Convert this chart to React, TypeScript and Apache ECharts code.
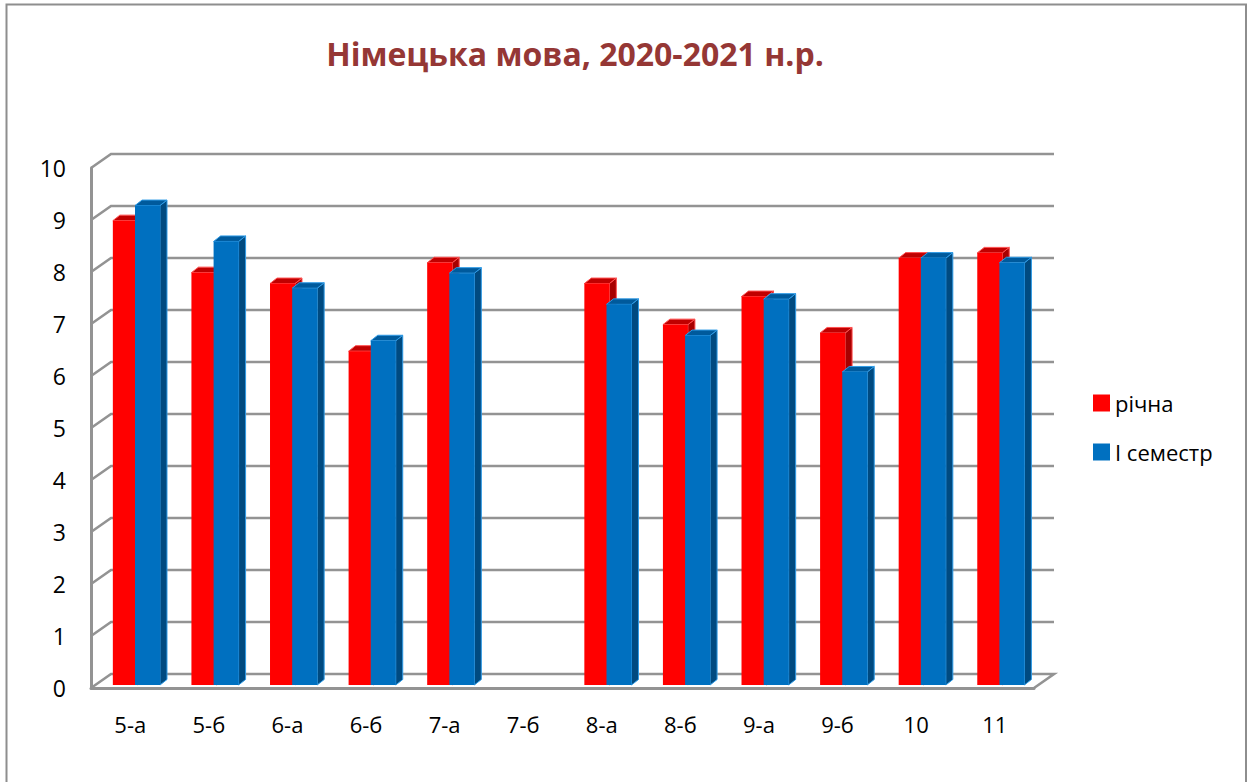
import React, { useEffect, useRef } from "react";
import * as echarts from "echarts";

const titleText = "Німецька мова, 2020-2021 н.р.";
const categories = ["5-а", "5-б", "6-а", "6-б", "7-а", "7-б", "8-а", "8-б", "9-а", "9-б", "10", "11"];
const annual = [8.93, 7.93, 7.72, 6.42, 8.12, null, 7.72, 6.93, 7.47, 6.77, 8.21, 8.31];
const semester = [9.22, 8.53, 7.63, 6.62, 7.92, null, 7.32, 6.72, 7.42, 6.02, 8.21, 8.12];
const yTicks = [0, 1, 2, 3, 4, 5, 6, 7, 8, 9, 10];

const FONT = "'Open Sans', sans-serif";
const AXIS = "#939393";
const WALL_DX = 20;
const WALL_DY = -14;
const BAR_DX = 7;
const BAR_DY = -5.5;
const BAR_BASE = -3;

function wallItem(params: any, api: any) {
  const v = api.value(0);
  const cs = params.coordSys;
  const y = api.coord([0, v])[1];
  const x0 = cs.x;
  const x1 = cs.x + cs.width;
  const pts: number[][] = [[x0, y], [x0 + WALL_DX, y + WALL_DY], [x1 + WALL_DX, y + WALL_DY]];
  if (v === 0) pts.push([x1, y]);
  return {
    type: "polyline",
    shape: { points: pts },
    style: { stroke: AXIS, lineWidth: 2.6, fill: "none" },
  };
}

function barRenderer(startFrac: number, front: string, top: string, side: string, edge: string) {
  return (_params: any, api: any) => {
    const raw = api.value(1);
    if (raw === null || raw === undefined || Number.isNaN(raw)) return null;
    const band = api.size([1, 0])[0];
    const p = api.coord([api.value(0), raw]);
    const b = api.coord([api.value(0), 0]);
    const l = p[0] + band * startFrac;
    const r = l + band * 0.318;
    const t = p[1] + BAR_BASE;
    const bt = b[1] + BAR_BASE;
    return {
      type: "group",
      children: [
        {
          type: "polygon",
          shape: { points: [[r, t], [r + BAR_DX, t + BAR_DY], [r + BAR_DX, bt + BAR_DY], [r, bt]] },
          style: { fill: side, stroke: edge, lineWidth: 1 },
        },
        {
          type: "polygon",
          shape: { points: [[l, t], [l + BAR_DX, t + BAR_DY], [r + BAR_DX, t + BAR_DY], [r, t]] },
          style: { fill: top, stroke: edge, lineWidth: 1 },
        },
        {
          type: "rect",
          shape: { x: l, y: t, width: r - l, height: bt - t },
          style: { fill: front },
        },
      ],
    };
  };
}

export default function App() {
  const ref = useRef<HTMLDivElement>(null);
  useEffect(() => {
    document.body.style.margin = "0";
    document.documentElement.style.overflow = "hidden";
    const chart = echarts.init(ref.current!, undefined, { renderer: "svg" });
    chart.setOption({
      animation: false,
      backgroundColor: "#ffffff",
      title: {
        text: titleText,
        left: 570,
        top: 32,
        textAlign: "center",
        textStyle: { color: "#953735", fontSize: 32, fontWeight: "bold", fontFamily: FONT },
      },
      legend: {
        orient: "vertical",
        left: 1088,
        top: 387,
        itemWidth: 17,
        itemHeight: 17,
        itemGap: 27,
        icon: "rect",
        data: ["річна", "І семестр"],
        textStyle: { color: "#000", fontSize: 22, fontFamily: FONT, padding: [0, 0, 0, 0] },
      },
      grid: { left: 91, top: 168, width: 943, height: 520 },
      xAxis: {
        type: "category",
        data: categories,
        axisLine: { show: true, onZero: false, lineStyle: { color: AXIS, width: 3 } },
        axisTick: { show: false },
        splitLine: { show: false },
        axisLabel: { color: "#000", fontSize: 22, fontFamily: FONT, margin: 25 },
      },
      yAxis: {
        type: "value",
        min: 0,
        max: 10,
        interval: 1,
        axisLine: { show: true, lineStyle: { color: AXIS, width: 3 } },
        axisTick: { show: false },
        splitLine: { show: false },
        axisLabel: { color: "#000", fontSize: 23, fontFamily: FONT, margin: 25, padding: [5, 0, 0, 0] },
      },
      series: [
        {
          type: "custom",
          name: "wall",
          data: yTicks.map((v) => [v]),
          encode: { y: 0 },
          renderItem: wallItem,
          silent: true,
          z: 1,
        },
        {
          type: "custom",
          name: "річна",
          itemStyle: { color: "#ff0000" },
          data: annual.map((v, i) => [i, v]),
          encode: { x: 0, y: 1 },
          renderItem: barRenderer(-0.222, "#ff0000", "#c00000", "#a80000", "#ff5050"),
          z: 2,
        },
        {
          type: "custom",
          name: "І семестр",
          itemStyle: { color: "#0070c0" },
          data: semester.map((v, i) => [i, v]),
          encode: { x: 0, y: 1 },
          renderItem: barRenderer(0.06, "#0070c0", "#005a9c", "#004a80", "#2f9be6"),
          z: 3,
        },
      ],
      graphic: [
        {
          type: "rect",
          z: 100,
          silent: true,
          shape: { x: 6.5, y: 4.5, width: 1239.5, height: 800 },
          style: { fill: "none", stroke: "#8e8e8e", lineWidth: 2 },
        },
      ],
    });
    return () => chart.dispose();
  }, []);
  return <div ref={ref} style={{ position: "absolute", left: 0, top: 0, width: 1251, height: 782 }} />;
}
